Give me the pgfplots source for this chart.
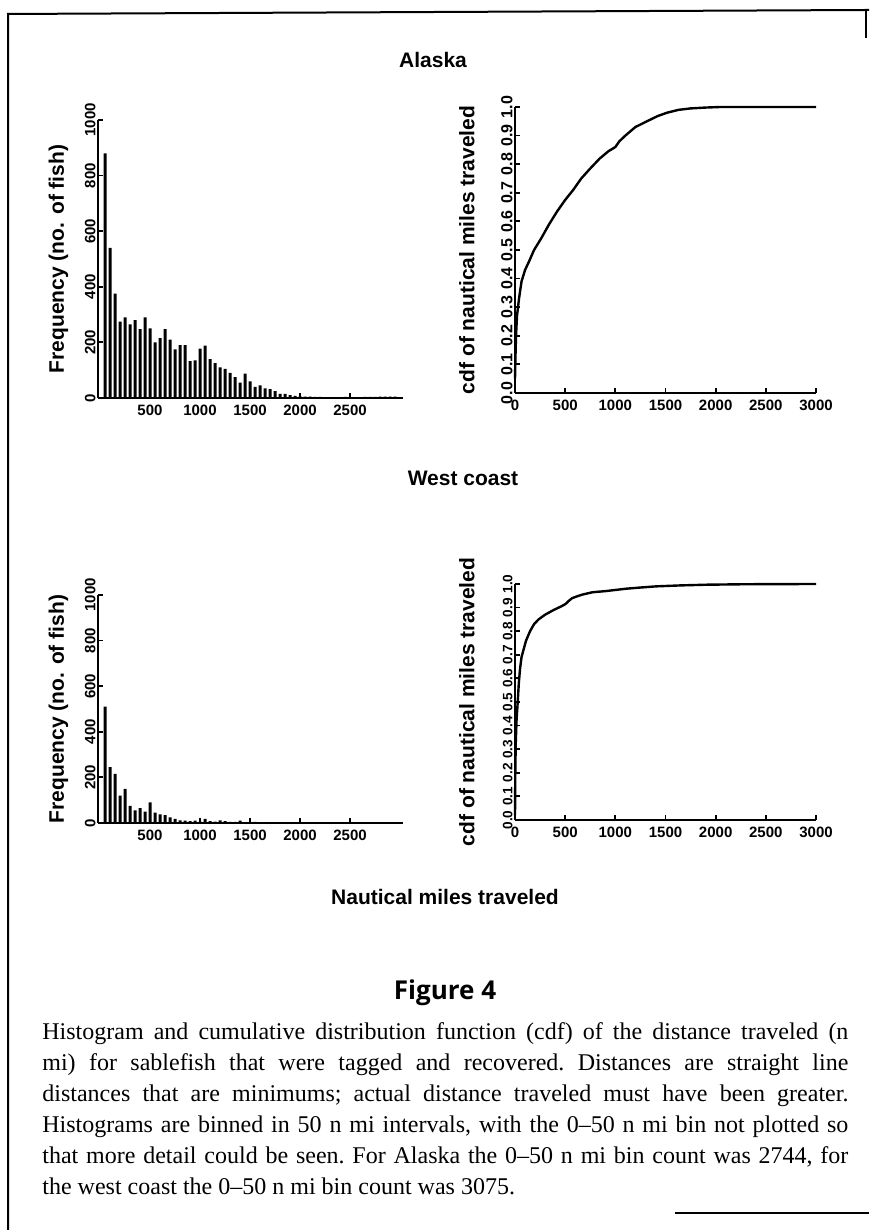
\documentclass[border=0pt]{standalone}
\usepackage{fontspec}
\setmainfont{Liberation Serif}
\setsansfont{Liberation Sans}
\newfontfamily\figfont{Open Sans}
\usepackage{pgfplots}
\pgfplotsset{compat=1.18}
\usepackage{pgfplotstable}

% histogram counts, 50 n mi bins (0-50 bin left out)
\pgfplotstableread{
x y
50 880
100 540
150 375
200 275
250 290
300 265
350 280
400 248
450 290
500 250
550 200
600 215
650 248
700 210
750 175
800 190
850 190
900 133
950 135
1000 178
1050 188
1100 140
1150 125
1200 110
1250 105
1300 90
1350 75
1400 55
1450 88
1500 60
1550 40
1600 45
1650 35
1700 32
1750 25
1800 15
1850 15
1900 10
1950 8
2000 6
2050 5
2100 5
2150 4
2200 4
2250 3
2300 3
2350 3
2400 3
2450 4
2500 3
2550 3
2600 3
2650 4
2700 4
2750 4
2800 5
2850 5
2900 5
2950 5
}\alaskahist

\pgfplotstableread{
x y
50 510
100 245
150 215
200 120
250 150
300 75
350 55
400 65
450 50
500 90
550 45
600 38
650 35
700 25
750 18
800 12
850 10
900 8
950 10
1000 6
1050 18
1100 8
1150 6
1200 12
1250 8
1300 5
1350 5
1400 10
1450 4
1500 3
1550 5
1600 4
1650 3
1700 3
1750 2
1800 2
1850 3
1900 2
1950 2
2000 2
2050 1
2100 2
2150 1
2200 1
2250 2
2300 1
2350 1
2400 1
2450 1
2500 1
2550 2
2600 1
2650 1
2700 1
2750 1
2800 1
2850 1
2900 1
2950 1
}\westhist

\pgfplotstableread{
x y
0 0.05
4 0.12
10 0.20
20 0.27
40 0.33
65 0.39
100 0.43
140 0.46
190 0.50
260 0.54
340 0.59
420 0.635
500 0.675
580 0.71
660 0.75
750 0.785
845 0.82
930 0.845
1000 0.86
1040 0.88
1100 0.90
1200 0.93
1315 0.95
1420 0.968
1515 0.98
1630 0.99
1750 0.995
1900 0.998
2050 1.0
3000 1.0
}\alaskacdf

\pgfplotstableread{
x y
0 0.02
3 0.20
7 0.32
15 0.42
27 0.50
38 0.58
50 0.64
65 0.69
84 0.72
110 0.76
150 0.80
190 0.83
235 0.85
300 0.87
386 0.89
460 0.905
503 0.915
540 0.93
570 0.94
620 0.948
671 0.955
772 0.965
906 0.97
1107 0.98
1250 0.985
1409 0.99
1650 0.994
1913 0.997
2300 0.999
3000 1.0
}\westcdf

\pgfplotsset{
  figax/.style={
    scale only axis,
    axis x line=bottom, axis y line=left,
    axis line style={-, line width=1.1pt},
    tick align=inside,
    major tick length=2.5pt,
    every tick/.style={line width=0.9pt, black},
    tick label style={font=\sffamily\bfseries\fontsize{7.5}{8}\selectfont},
    label style={font=\sffamily\bfseries\fontsize{10.5}{12}\selectfont},
    /pgf/number format/assume math mode=true,
    /pgf/number format/set thousands separator={},
    yticklabel style={rotate=90, anchor=south, inner sep=1pt},
    clip=false,
  },
  histax/.style={
    figax, width=152.5pt,
    xmin=-20, xmax=3030, ymin=0, ymax=1000,
    xtick={500,1000,1500,2000,2500},
    ytick={0,200,400,600,800,1000},
    ylabel={Frequency (no. of fish)},
    ylabel style={at={(axis description cs:-0.13,0.5)}, anchor=center},
  },
  cdfax/.style={
    figax, width=150.5pt,
    xmin=0, xmax=3000, ymin=0, ymax=1,
    xtick={0,500,1000,1500,2000,2500,3000},
    ytick={0,0.1,0.2,0.3,0.4,0.5,0.6,0.7,0.8,0.9,1},
    yticklabel style={/pgf/number format/fixed,
      /pgf/number format/fixed zerofill, /pgf/number format/precision=1},
    ylabel={cdf of nautical miles traveled},
    ylabel style={at={(axis description cs:-0.16,0.5)}, anchor=center},
  },
}

\begin{document}
\begin{tikzpicture}
\useasboundingbox (0,0) rectangle (434.5pt,615pt);
% frame
\draw[line width=1pt] (4pt,0) -- (4pt,608pt) -- (434.5pt,610pt);
\draw[line width=1pt] (433pt,610pt) -- (433pt,596pt);
\draw[line width=1.2pt] (337.5pt,8.5pt) -- (434.5pt,8.5pt);

\node[font=\sffamily\bfseries\fontsize{10.5}{12}\selectfont] at (216.5pt,585pt) {Alaska};
\node[font=\sffamily\bfseries\fontsize{10.5}{12}\selectfont] at (231.5pt,376pt) {West coast};

% Alaska
\begin{axis}[histax, height=139pt, at={(49pt,416pt)}, anchor=south west]
\addplot[ybar, bar width=30, fill=black, draw=none] table {\alaskahist};
\end{axis}
\begin{axis}[cdfax, height=143pt, at={(257.5pt,418.5pt)}, anchor=south west,
  yticklabel style={font=\sffamily\bfseries\fontsize{8}{9}\selectfont}]
\addplot[line width=1.2pt, black] table {\alaskacdf};
\end{axis}

% West coast
\begin{axis}[histax, height=114pt, at={(49pt,203.5pt)}, anchor=south west]
\addplot[ybar, bar width=30, fill=black, draw=none] table {\westhist};
\end{axis}
\begin{axis}[cdfax, height=118pt, at={(257.5pt,205pt)}, anchor=south west,
  yticklabel style={font=\sffamily\bfseries\fontsize{6.8}{8}\selectfont}]
\addplot[line width=1.2pt, black] table {\westcdf};
\end{axis}

\node[font=\sffamily\bfseries\fontsize{10.5}{12}\selectfont] at (222.5pt,166.5pt) {Nautical miles traveled};
\node[font=\figfont\bfseries\fontsize{13}{15}\selectfont] at (222.5pt,118.5pt) {Figure 4};

\node[anchor=north west, inner sep=0pt, align=left,
      font=\rmfamily\frenchspacing\fontsize{12}{15.5}\selectfont] at (21pt,104pt) {%
\makebox[403pt][s]{Histogram and cumulative distribution function (cdf) of the distance traveled (n}\\
\makebox[403pt][s]{mi) for sablefish that were tagged and recovered. Distances are straight line}\\
\makebox[403pt][s]{distances that are minimums; actual distance traveled must have been greater.}\\
\makebox[403pt][s]{Histograms are binned in 50 n mi intervals, with the 0--50 n mi bin not plotted so}\\
\makebox[403pt][s]{that more detail could be seen. For Alaska the 0--50 n mi bin count was 2744, for}\\
the west coast the 0--50 n mi bin count was 3075.};
\end{tikzpicture}
\end{document}
